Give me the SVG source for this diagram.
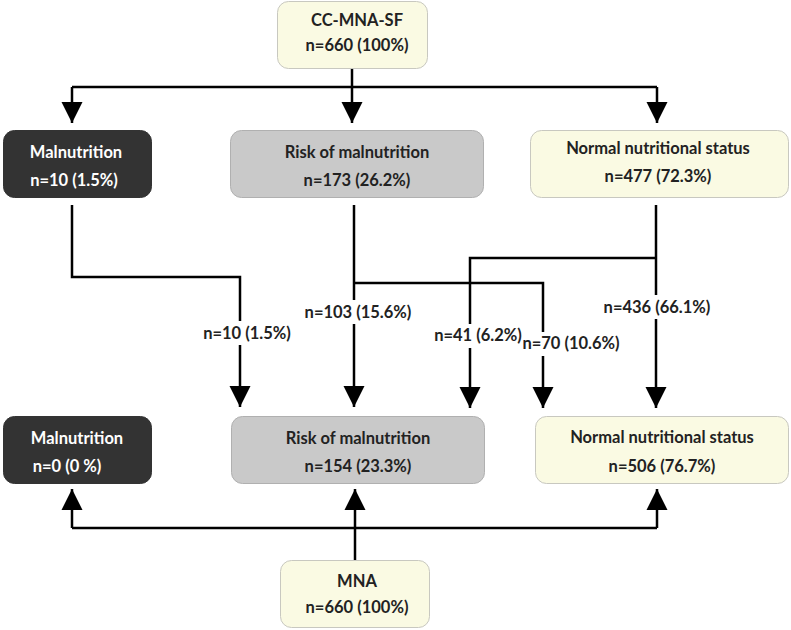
<svg xmlns="http://www.w3.org/2000/svg" width="791" height="630" viewBox="0 0 791 630">
<defs>
<style>
.t{font-family:Lato,"Open Sans","Liberation Sans",sans-serif;font-weight:bold;font-size:16.5px;text-anchor:middle}
.dk{fill:#333333;stroke:#333333}
.gr{fill:#c9c9c9;stroke:#b0b0b0}
.yl{fill:#fafae3;stroke:#c8c8c0}
.w{fill:#ffffff}
.k{fill:#222222}
.ln{fill:none;stroke:#000;stroke-width:2.5}
.lb{fill:#fff}
</style>
<marker id="ah" viewBox="0 0 10 10" refX="10" refY="5" markerWidth="8.5" markerHeight="8.5" markerUnits="strokeWidth" orient="auto">
<path d="M0,0 L10,5 L0,10 Z" fill="#000"/>
</marker>
</defs>
<g id="connectors">
<path class="ln" d="M352,68 V87"/>
<path class="ln" d="M72,87 H657"/>
<path class="ln" d="M72,87 V123" marker-end="url(#ah)"/>
<path class="ln" d="M352,87 V123" marker-end="url(#ah)"/>
<path class="ln" d="M657,87 V123" marker-end="url(#ah)"/>
<path class="ln" d="M72,205 V277 H240 V407" marker-end="url(#ah)"/>
<path class="ln" d="M354,205 V407" marker-end="url(#ah)"/>
<path class="ln" d="M354,283 H543 V408" marker-end="url(#ah)"/>
<path class="ln" d="M656,205 V408" marker-end="url(#ah)"/>
<path class="ln" d="M656,258 H470 V408" marker-end="url(#ah)"/>
<path class="ln" d="M355,560 V489" marker-end="url(#ah)"/>
<path class="ln" d="M72,528 H657"/>
<path class="ln" d="M72,528 V489" marker-end="url(#ah)"/>
<path class="ln" d="M657,528 V489" marker-end="url(#ah)"/>
<rect class="lb" x="203" y="321" width="88" height="24"/>
<text class="t k" x="247" y="339">n=10 (1.5%)</text>
<rect class="lb" x="303" y="300" width="110" height="24"/>
<text class="t k" x="358" y="318">n=103 (15.6%)</text>
<rect class="lb" x="436" y="324" width="84" height="24"/>
<text class="t k" x="478" y="341">n=41 (6.2%)</text>
<rect class="lb" x="524" y="332" width="94" height="24"/>
<text class="t k" x="571" y="349">n=70 (10.6%)</text>
<rect class="lb" x="602" y="295" width="110" height="24"/>
<text class="t k" x="657" y="313">n=436 (66.1%)</text>
</g>
<g id="cc-mna-sf">
<rect class="yl" x="277.5" y="1.5" width="150" height="67" rx="11"/>
<text class="t k" x="357" y="26">CC-MNA-SF</text>
<text class="t k" x="357" y="51">n=660 (100%)</text>
</g>
<g id="malnutrition-1">
<rect class="dk" x="3.5" y="130.5" width="148" height="67" rx="11"/>
<text class="t w" x="76" y="158">Malnutrition</text>
<text class="t w" x="74" y="186">n=10 (1.5%)</text>
</g>
<g id="risk-1">
<rect class="gr" x="230.5" y="130.5" width="253" height="67" rx="11"/>
<text class="t k" x="357" y="158">Risk of malnutrition</text>
<text class="t k" x="357" y="186">n=173 (26.2%)</text>
</g>
<g id="normal-1">
<rect class="yl" x="530.5" y="130.5" width="258" height="67" rx="11"/>
<text class="t k" x="658" y="154">Normal nutritional status</text>
<text class="t k" x="658" y="182">n=477 (72.3%)</text>
</g>
<g id="malnutrition-2">
<rect class="dk" x="3.5" y="416.5" width="148" height="67" rx="11"/>
<text class="t w" x="77" y="444">Malnutrition</text>
<text class="t w" x="67" y="472">n=0 (0 %)</text>
</g>
<g id="risk-2">
<rect class="gr" x="231.5" y="416.5" width="253" height="67" rx="11"/>
<text class="t k" x="358" y="444">Risk of malnutrition</text>
<text class="t k" x="358" y="472">n=154 (23.3%)</text>
</g>
<g id="normal-2">
<rect class="yl" x="535.5" y="416.5" width="253" height="67" rx="11"/>
<text class="t k" x="662" y="443">Normal nutritional status</text>
<text class="t k" x="662" y="472">n=506 (76.7%)</text>
</g>
<g id="mna">
<rect class="yl" x="280.5" y="560.5" width="149" height="67" rx="11"/>
<text class="t k" x="357" y="587">MNA</text>
<text class="t k" x="357" y="613">n=660 (100%)</text>
</g>
</svg>
